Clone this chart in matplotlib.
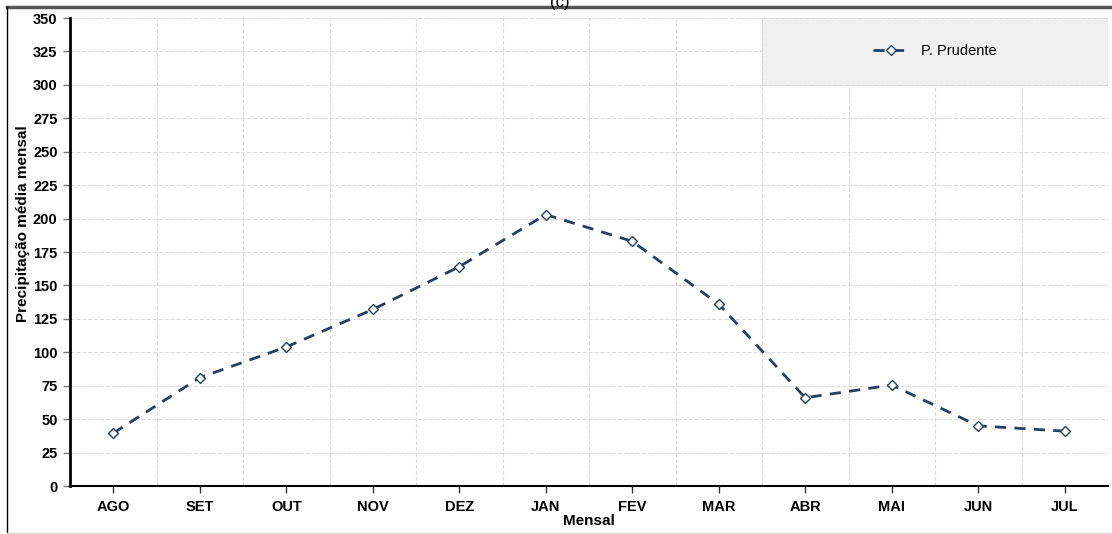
import matplotlib
matplotlib.use('Agg')
import matplotlib.pyplot as plt
from matplotlib.patches import Rectangle
from matplotlib.lines import Line2D

plt.rcParams['font.family'] = ['Liberation Sans', 'DejaVu Sans']

meses = ['AGO', 'SET', 'OUT', 'NOV', 'DEZ', 'JAN', 'FEV', 'MAR', 'ABR', 'MAI', 'JUN', 'JUL']
prudente = [39.5, 81, 104, 132, 164, 203, 183, 136, 66, 75.5, 45, 41]
yticks = list(range(0, 351, 25))

fig = plt.figure(figsize=(11.12, 5.34), dpi=100)
ax = fig.add_axes([70/1112, 1-486/534, 1038/1112, 468/534])

x = list(range(len(meses)))
ax.plot(x, prudente, linestyle=(0, (4, 3)), color='#243f66', linewidth=2,
        marker='D', markersize=5, markerfacecolor='white', markeredgecolor='#243f66',
        markeredgewidth=1, label='P. Prudente', zorder=3)

ax.set_xlim(-0.5, len(meses) - 0.5)
ax.set_ylim(0, 350)
ax.set_xticks(x)
ax.set_xticklabels(meses, fontweight='bold', fontsize=10.5)
ax.set_yticks(yticks)
ax.set_yticklabels([str(v) for v in yticks], fontweight='bold', fontsize=10.5)
ax.set_xticks([i + 0.5 for i in range(len(meses))], minor=True)
ax.tick_params(axis='x', which='major', length=5, width=1, color='#333333', pad=5)
ax.tick_params(axis='x', which='minor', length=0)
ax.tick_params(axis='y', length=5, width=1, color='#777777', pad=4)

ax.grid(True, which='minor', axis='x', linestyle='--', color='#dcdcdc', linewidth=0.8)
ax.grid(True, which='major', axis='y', linestyle='--', color='#dcdcdc', linewidth=0.8)
ax.set_axisbelow(True)

for s in ['top', 'right']:
    ax.spines[s].set_visible(False)
ax.spines['left'].set_linewidth(2)
ax.spines['bottom'].set_linewidth(1.5)

ax.add_patch(Rectangle((7.5, 300), 4, 50, facecolor='#f0f0f0', edgecolor='#dcdcdc',
                       linestyle='--', linewidth=0.8, zorder=1))
ax.legend(loc='center', bbox_to_anchor=(9.5, 325), bbox_transform=ax.transData,
          frameon=False, fontsize=10.5, handlelength=2.5)

ax.set_xlabel('Mensal', fontweight='bold', fontsize=11, labelpad=0)
ax.set_ylabel('Precipitação média mensal', fontweight='bold', fontsize=11)
ax.yaxis.set_label_coords(-0.039, 0.56)

fig.text(560/1112, 1 - 2/534, '(c)', ha='center', va='center', fontsize=12)
fig.add_artist(Line2D([7/1112, 1], [1 - 7/534, 1 - 7/534], color='#555555', linewidth=2.5))
fig.add_artist(Line2D([7/1112, 7/1112], [1 - 7/534, 1/534], color='black', linewidth=1))
fig.add_artist(Line2D([7/1112, 1], [1/534, 1/534], color='#dddddd', linewidth=1))

fig.savefig('out.png', dpi=100)
